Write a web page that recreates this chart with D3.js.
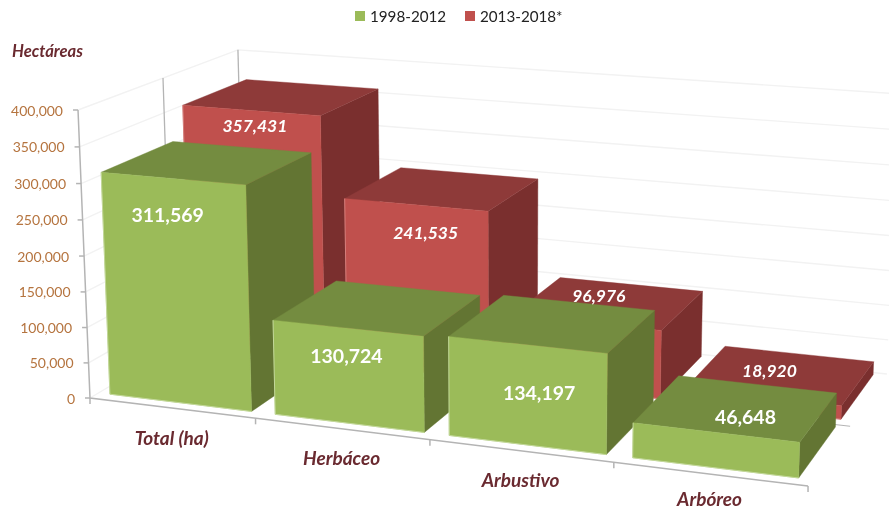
<!DOCTYPE html>
<html>
<head>
<meta charset="utf-8">
<script src="https://cdn.jsdelivr.net/npm/d3@7/dist/d3.min.js"></script>
<style>
html,body{margin:0;padding:0;background:#fff}
svg{display:block;filter:blur(0.35px)}
text{font-family:Lato,"Open Sans",sans-serif}
</style>
</head>
<body>
<svg id="chart" width="889" height="511"></svg>
<script>
// ---------- data ----------
const categories = ["Total (ha)", "Herbáceo", "Arbustivo", "Arbóreo"];
const seriesNames = ["1998-2012", "2013-2018*"];
const values1998 = [311569, 130724, 134197, 46648];
const values2013 = [357431, 241535, 96976, 18920];
const yTicks = [0, 50000, 100000, 150000, 200000, 250000, 300000, 350000, 400000];
const yTitle = "Hectáreas";

// ---------- label placement (pixel nudges from the top-front centre of each bar) ----------
const nudge1998 = [[-5, 36], [-1, 27], [12, 48], [30, -16]];
const nudge2013 = [[4, 15], [10, 28], [13, -27], [7, -26]];
const categoryDrop = [29, 28.5, 29, 24.5];

// ---------- colours ----------
const faces = [
  {front: "#9bbb59", side: "#637533", top: "#748c40", edge: "#c3d89a"},
  {front: "#c0504d", side: "#7a2f2e", top: "#8e3a39", edge: "#d57f7c"}
];
const maroon = "#6a2a30", tickColor = "#b5743f", axisColor = "#b4b4b4", gridColor = "#f2f2f2";

// ---------- perspective camera: three vanishing points, an origin and axis gains ----------
const vpX = [-6304, -386], vpY = [505, 10370], vpZ = [1431, -399], origin = [90, 398];
const gainX = -0.02524, gainY = -0.02807, gainZ = 0.06514;

// scales map data into unit-box world coordinates
const xWorld = d3.scaleBand().domain(categories).range([0, 4]).paddingInner(0.14).paddingOuter(0.07);
const zWorld = d3.scaleBand().domain(seriesNames).range([0, 2.06]).paddingInner(0.14).paddingOuter(0.1);
const yWorld = d3.scaleLinear().domain([0, 400000]).range([0, 1]);

function project(x, y, z) {
  const a = gainX * x, b = gainY * y, c = gainZ * z;
  const w = 1 + a + b + c;
  return [
    (origin[0] + a * vpX[0] + b * vpY[0] + c * vpZ[0]) / w,
    (origin[1] + a * vpX[1] + b * vpY[1] + c * vpZ[1]) / w
  ];
}

const svg = d3.select("#chart");
const line = d3.line();
const poly = pts => line(pts) + "Z";

// ---------- walls ----------
const walls = svg.append("g").attr("fill", "none");
yTicks.forEach(t => {
  const y = yWorld(t);
  walls.append("path").attr("stroke", gridColor).attr("stroke-width", 1.4)
    .attr("d", line([project(0, y, 0), project(0, y, 2), project(4, y, 2)]));
});
[1, 2].forEach(z => {
  walls.append("path").attr("stroke", axisColor).attr("stroke-width", 1.3)
    .attr("d", line([project(0, 1, z), project(0, 0, z)]));
});
walls.append("path").attr("stroke", axisColor).attr("stroke-width", 1.2)
  .attr("d", line([project(0, 0, 1), project(4, 0, 1)]));

// ---------- axes ----------
const axes = svg.append("g").attr("fill", "none").attr("stroke", axisColor).attr("stroke-width", 1.5);
axes.append("path").attr("d", line([project(0, 1, 0), project(0, 0, 0), project(4, 0, 0)]));
yTicks.forEach(t => {
  const p = project(0, yWorld(t), 0);
  axes.append("path").attr("d", line([[p[0] - 5, p[1]], p]));
});
d3.range(5).forEach(i => {
  const p = project(i, 0, 0);
  axes.append("path").attr("d", line([p, [p[0], p[1] + 6]]));
});

svg.append("g").selectAll("text").data(yTicks).join("text")
  .attr("x", d => project(0, yWorld(d), 0)[0] - 15)
  .attr("y", d => project(0, yWorld(d), 0)[1])
  .attr("text-anchor", "end").attr("dominant-baseline", "central")
  .attr("font-size", 14).attr("fill", tickColor)
  .text(d3.format(","));

// ---------- bars: back series first, left to right ----------
const barLayers = [
  {s: 1, vals: values2013, nudge: nudge2013},
  {s: 0, vals: values1998, nudge: nudge1998}
];
const labels = [];
barLayers.forEach(({s, vals, nudge}) => {
  const zName = seriesNames[s];
  const z0 = zWorld(zName), z1 = z0 + zWorld.bandwidth();
  const g = svg.append("g");
  categories.forEach((cat, i) => {
    const x0 = xWorld(cat), x1 = x0 + xWorld.bandwidth(), y = yWorld(vals[i]);
    const col = faces[s];
    const quads = [
      {fill: col.side, pts: [project(x1, 0, z0), project(x1, 0, z1), project(x1, y, z1), project(x1, y, z0)]},
      {fill: col.top, pts: [project(x0, y, z0), project(x1, y, z0), project(x1, y, z1), project(x0, y, z1)]},
      {fill: col.front, pts: [project(x0, 0, z0), project(x1, 0, z0), project(x1, y, z0), project(x0, y, z0)]}
    ];
    quads.forEach(q => g.append("path").attr("d", poly(q.pts))
      .attr("fill", q.fill).attr("stroke", q.fill).attr("stroke-width", 0.4));
    g.append("path").attr("fill", "none").attr("stroke", col.edge).attr("stroke-width", 1)
      .attr("d", line([project(x0, y, z0), project(x0, 0, z0), project(x1, 0, z0)]));
    const c = project((x0 + x1) / 2, y, z0);
    labels.push({s, v: vals[i], x: c[0] + nudge[i][0], y: c[1] + nudge[i][1]});
  });
});

// ---------- value labels ----------
svg.append("g").selectAll("text").data(labels).join("text")
  .attr("x", d => d.x).attr("y", d => d.y)
  .attr("text-anchor", "middle").attr("dominant-baseline", "central")
  .attr("fill", "#fff").attr("font-weight", 700)
  .attr("font-style", d => d.s === 1 ? "italic" : "normal")
  .attr("font-size", d => d.s === 1 ? 17.5 : 19.5)
  .text(d => d3.format(",")(d.v));

// ---------- category labels ----------
svg.append("g").selectAll("text").data(categories).join("text")
  .attr("x", d => project(xWorld(d) + xWorld.bandwidth() / 2, 0, 0)[0])
  .attr("y", (d, i) => project(xWorld(d) + xWorld.bandwidth() / 2, 0, 0)[1] + categoryDrop[i])
  .attr("text-anchor", "middle").attr("dominant-baseline", "central")
  .attr("font-size", 19).attr("font-weight", 700).attr("font-style", "italic")
  .attr("fill", maroon)
  .text(d => d);

// ---------- axis title ----------
svg.append("text").attr("x", 12).attr("y", 51).attr("dominant-baseline", "central")
  .attr("font-size", 16.6).attr("font-weight", 700).attr("font-style", "italic")
  .attr("fill", maroon).text(yTitle);

// ---------- legend ----------
const legendX = d3.scaleOrdinal().domain(seriesNames).range([355, 465]);
const legend = svg.append("g").selectAll("g").data(seriesNames).join("g")
  .attr("transform", d => `translate(${legendX(d)},11)`);
legend.append("rect").attr("width", 10).attr("height", 10)
  .attr("fill", (d, i) => faces[i].front);
legend.append("text").attr("x", 15).attr("y", 5).attr("dominant-baseline", "central")
  .attr("font-size", 15.2).attr("fill", "#222").text(d => d);
</script>
</body>
</html>
